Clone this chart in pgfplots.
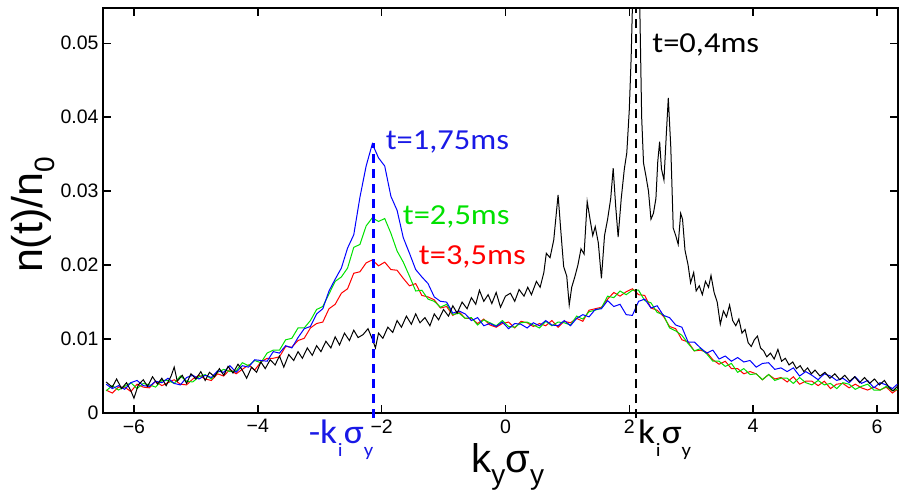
\documentclass[border=0pt]{standalone}
\usepackage{pgfplots}
\pgfplotsset{compat=1.18}
\usepackage{fontspec}
\usepackage{graphicx}
\setmainfont{Carlito}
\newfontfamily\arial{Liberation Sans}
\definecolor{cblue}{RGB}{0,0,255}
\definecolor{cgreen}{RGB}{0,225,0}
\definecolor{cred}{RGB}{255,0,0}
\definecolor{tblue}{RGB}{25,25,230}
\newcommand{\annfont}{\fontsize{29}{29}\selectfont}
\newcommand{\ann}[1]{\scalebox{1.12}[1]{\annfont #1}}
\newcommand{\kfont}{\fontsize{34}{34}\selectfont}
\newcommand{\sub}[1]{\raisebox{-0.4em}{\fontsize{19}{19}\selectfont #1}}
\newcommand{\klab}[1]{\scalebox{1.1}[1]{\kfont #1k\kern0.02em\sub{i}\kern0.03em σ\sub{y}}}
\begin{document}
\begin{tikzpicture}
\begin{axis}[
  name=ax,
  scale only axis,
  width=795pt, height=405pt,
  xmin=-6.5, xmax=6.34, ymin=0, ymax=0.05477,
  clip=false,
  axis line style={line width=1.8pt},
  major tick style={line width=1.5pt, black},
  major tick length=8pt,
  tick align=inside,
  xtick={-6,-4,-2,0,2,4,6},
  xticklabels={−6,−4,−2,0,2,4,6},
  ytick={0,0.01,0.02,0.03,0.04,0.05},
  yticklabels={0,0.01,0.02,0.03,0.04,0.05},
  scaled y ticks=false,
  tick label style={font=\arial\fontsize{19.5}{19.5}\selectfont},
  xticklabel style={yshift=-3pt},
  yticklabel style={xshift=-1pt},
  xlabel={\arial\fontsize{40}{40}\selectfont k\raisebox{-0.3em}{\fontsize{28}{28}\selectfont y}σ\raisebox{-0.3em}{\fontsize{28}{28}\selectfont y}},
  xlabel style={at={(axis description cs:0.509,-0.146)}, anchor=base},
  ylabel={\arial\fontsize{43}{43}\selectfont n(t)/n\raisebox{-0.3em}{\fontsize{28}{28}\selectfont 0}},
  ylabel style={at={(axis description cs:-0.088,0.489)}, anchor=center},
]
% t = 3.5 ms (red)
\addplot[cred, line width=1pt] table {
x y
-6.45 .0031
-6.35 .0027
-6.25 .0035
-6.15 .0035
-6.05 .0029
-5.95 .0039
-5.85 .0035
-5.75 .0034
-5.65 .0043
-5.55 .0037
-5.45 .0041
-5.35 .0045
-5.25 .0039
-5.15 .0038
-5.05 .0046
-4.95 .0051
-4.85 .0046
-4.75 .0044
-4.65 .0053
-4.55 .0050
-4.45 .0059
-4.35 .0053
-4.25 .0059
-4.15 .0065
-4.05 .0058
-3.95 .0069
-3.85 .0074
-3.75 .0074
-3.65 .0076
-3.55 .0090
-3.45 .0089
-3.35 .0098
-3.25 .0101
-3.15 .0115
-3.05 .0121
-2.95 .0123
-2.85 .0141
-2.75 .0147
-2.65 .0162
-2.55 .0168
-2.45 .0189
-2.35 .0191
-2.25 .0203
-2.15 .0207
-2.05 .0199
-1.95 .0204
-1.85 .0194
-1.75 .0193
-1.65 .0182
-1.55 .0172
-1.45 .0175
-1.35 .0159
-1.25 .0157
-1.15 .0153
-1.05 .0142
-0.95 .0144
-0.85 .0132
-0.75 .0137
-0.65 .0128
-0.55 .0128
-0.45 .0121
-0.35 .0127
-0.25 .0119
-0.15 .0116
-0.05 .0121
0.05 .0123
0.15 .0115
0.25 .0124
0.35 .0122
0.45 .0117
0.55 .0121
0.65 .0118
0.75 .0125
0.85 .0116
0.95 .0124
1.05 .0122
1.15 .0128
1.25 .0124
1.35 .0139
1.45 .0141
1.55 .0143
1.65 .0154
1.75 .0163
1.85 .0158
1.95 .0164
2.05 .0168
2.15 .0160
2.25 .0159
2.35 .0142
2.45 .0139
2.55 .0131
2.65 .0117
2.75 .0114
2.85 .0099
2.95 .0096
3.05 .0084
3.15 .0085
3.25 .0082
3.35 .0072
3.45 .0066
3.55 .0070
3.65 .0060
3.75 .0060
3.85 .0053
3.95 .0056
4.05 .0053
4.15 .0045
4.25 .0052
4.35 .0046
4.45 .0048
4.55 .0042
4.65 .0049
4.75 .0039
4.85 .0043
4.95 .0043
5.05 .0037
5.15 .0043
5.25 .0033
5.35 .0039
5.45 .0040
5.55 .0034
5.65 .0039
5.75 .0034
5.85 .0031
5.95 .0035
6.05 .0031
6.15 .0035
6.25 .0027
6.33 .0032
};
% t = 2.5 ms (green)
\addplot[cgreen, line width=1pt] table {
x y
-6.45 .0030
-6.35 .0037
-6.25 .0031
-6.15 .0036
-6.05 .0041
-5.95 .0033
-5.85 .0040
-5.75 .0038
-5.65 .0035
-5.55 .0044
-5.45 .0044
-5.35 .0040
-5.25 .0050
-5.15 .0043
-5.05 .0042
-4.95 .0049
-4.85 .0052
-4.75 .0046
-4.65 .0055
-4.55 .0059
-4.45 .0056
-4.35 .0057
-4.25 .0068
-4.15 .0064
-4.05 .0071
-3.95 .0068
-3.85 .0081
-3.75 .0085
-3.65 .0085
-3.55 .0099
-3.45 .0101
-3.35 .0115
-3.25 .0115
-3.15 .0125
-3.05 .0140
-2.95 .0144
-2.85 .0161
-2.75 .0178
-2.65 .0184
-2.55 .0196
-2.45 .0224
-2.35 .0228
-2.25 .0253
-2.15 .0264
-2.05 .0259
-1.95 .0263
-1.85 .0243
-1.75 .0219
-1.65 .0204
-1.55 .0185
-1.45 .0165
-1.35 .0166
-1.25 .0154
-1.15 .0151
-1.05 .0143
-0.95 .0147
-0.85 .0133
-0.75 .0135
-0.65 .0128
-0.55 .0129
-0.45 .0119
-0.35 .0126
-0.25 .0122
-0.15 .0118
-0.05 .0125
0.05 .0117
0.15 .0116
0.25 .0122
0.35 .0123
0.45 .0119
0.55 .0115
0.65 .0124
0.75 .0118
0.85 .0123
0.95 .0122
1.05 .0119
1.15 .0131
1.25 .0127
1.35 .0137
1.45 .0139
1.55 .0142
1.65 .0158
1.75 .0156
1.85 .0165
1.95 .0160
2.05 .0166
2.15 .0166
2.25 .0152
2.35 .0149
2.45 .0136
2.55 .0133
2.65 .0115
2.75 .0111
2.85 .0105
2.95 .0094
3.05 .0084
3.15 .0087
3.25 .0080
3.35 .0070
3.45 .0070
3.55 .0063
3.65 .0067
3.75 .0055
3.85 .0060
3.95 .0052
4.05 .0053
4.15 .0045
4.25 .0052
4.35 .0044
4.45 .0047
4.55 .0047
4.65 .0040
4.75 .0048
4.85 .0041
4.95 .0038
5.05 .0044
5.15 .0038
5.25 .0040
5.35 .0033
5.45 .0041
5.55 .0039
5.65 .0032
5.75 .0036
5.85 .0039
5.95 .0031
6.05 .0031
6.15 .0036
6.25 .0030
6.33 .0032
};
% t = 1.75 ms (blue)
\addplot[cblue, line width=1pt] table {
x y
-6.45 .0039
-6.35 .0033
-6.25 .0037
-6.15 .0032
-6.05 .0041
-5.95 .0044
-5.85 .0037
-5.75 .0036
-5.65 .0043
-5.55 .0041
-5.45 .0047
-5.35 .0040
-5.25 .0038
-5.15 .0048
-5.05 .0051
-4.95 .0046
-4.85 .0051
-4.75 .0048
-4.65 .0057
-4.55 .0055
-4.45 .0064
-4.35 .0055
-4.25 .0064
-4.15 .0062
-4.05 .0072
-3.95 .0071
-3.85 .0070
-3.75 .0083
-3.65 .0081
-3.55 .0091
-3.45 .0088
-3.35 .0102
-3.25 .0114
-3.15 .0117
-3.05 .0134
-2.95 .0141
-2.85 .0165
-2.75 .0181
-2.65 .0196
-2.55 .0223
-2.45 .0241
-2.35 .0292
-2.25 .0334
-2.15 .0364
-2.05 .0345
-1.95 .0334
-1.85 .0293
-1.75 .0274
-1.65 .0237
-1.55 .0216
-1.45 .0194
-1.35 .0184
-1.25 .0175
-1.15 .0157
-1.05 .0151
-0.95 .0150
-0.85 .0135
-0.75 .0138
-0.65 .0134
-0.55 .0125
-0.45 .0129
-0.35 .0118
-0.25 .0121
-0.15 .0117
-0.05 .0123
0.05 .0114
0.15 .0121
0.25 .0120
0.35 .0115
0.45 .0122
0.55 .0118
0.65 .0125
0.75 .0119
0.85 .0118
0.95 .0125
1.05 .0118
1.15 .0128
1.25 .0133
1.35 .0130
1.45 .0140
1.55 .0141
1.65 .0152
1.75 .0144
1.85 .0147
1.95 .0133
2.05 .0132
2.15 .0151
2.25 .0154
2.35 .0142
2.45 .0145
2.55 .0132
2.65 .0129
2.75 .0119
2.85 .0116
2.95 .0096
3.05 .0096
3.15 .0088
3.25 .0081
3.35 .0085
3.45 .0073
3.55 .0077
3.65 .0070
3.75 .0075
3.85 .0069
3.95 .0071
4.05 .0062
4.15 .0067
4.25 .0068
4.35 .0059
4.45 .0061
4.55 .0056
4.65 .0061
4.75 .0050
4.85 .0056
4.95 .0051
5.05 .0045
5.15 .0053
5.25 .0050
5.35 .0044
5.45 .0047
5.55 .0041
5.65 .0049
5.75 .0040
5.85 .0044
5.95 .0034
6.05 .0041
6.15 .0038
6.25 .0033
6.33 .0039
};
% t = 0.4 ms (black)
\addplot[black, line width=1pt] table {
x y
-6.45 .0042
-6.35 .0035
-6.28 .0046
-6.20 .0033
-6.12 .0041
-6.05 .0030
-6.00 .0020
-5.93 .0038
-5.85 .0045
-5.78 .0036
-5.70 .0049
-5.62 .0039
-5.55 .0047
-5.48 .0037
-5.40 .0050
-5.35 .0062
-5.30 .0043
-5.22 .0051
-5.15 .0040
-5.08 .0053
-5.00 .0046
-4.92 .0056
-4.85 .0044
-4.78 .0055
-4.70 .0049
-4.62 .0060
-4.55 .0051
-4.48 .0063
-4.40 .0054
-4.32 .0066
-4.25 .0058
-4.18 .0047
-4.10 .0062
-4.02 .0055
-3.95 .0069
-3.88 .0060
-3.80 .0072
-3.72 .0065
-3.65 .0077
-3.58 .0062
-3.50 .0079
-3.42 .0071
-3.35 .0083
-3.28 .0074
-3.20 .0088
-3.12 .0078
-3.05 .0091
-2.98 .0083
-2.90 .0097
-2.82 .0088
-2.75 .0103
-2.68 .0092
-2.60 .0108
-2.52 .0098
-2.45 .0112
-2.38 .0102
-2.30 .0106
-2.22 .0114
-2.15 .0100
-2.10 .0088
-2.05 .0108
-1.98 .0101
-1.90 .0116
-1.82 .0109
-1.75 .0125
-1.68 .0116
-1.60 .0131
-1.52 .0120
-1.45 .0134
-1.38 .0122
-1.30 .0129
-1.22 .0118
-1.15 .0134
-1.08 .0126
-1.00 .0140
-0.92 .0131
-0.85 .0145
-0.78 .0135
-0.70 .0150
-0.62 .0141
-0.55 .0156
-0.48 .0147
-0.42 .0166
-0.35 .0151
-0.28 .0160
-0.22 .0148
-0.15 .0163
-0.08 .0143
0.00 .0158
0.08 .0162
0.15 .0151
0.22 .0167
0.30 .0158
0.36 .0170
0.42 .0160
0.50 .0178
0.56 .0170
0.62 .0190
0.66 .0216
0.72 .0210
0.78 .0234
0.85 .0295
0.90 .0240
0.94 .0198
0.99 .0185
1.03 .0146
1.07 .0170
1.12 .0184
1.17 .0200
1.22 .0222
1.27 .0215
1.32 .0286
1.37 .0260
1.41 .0240
1.45 .0252
1.50 .0230
1.55 .0182
1.60 .0240
1.65 .0262
1.70 .0290
1.74 .0331
1.78 .0280
1.82 .0238
1.87 .0290
1.92 .0330
1.96 .0352
2.00 .0410
2.03 .0480
2.05 .05477
2.17 .05477
2.20 .0400
2.23 .0338
2.27 .0320
2.31 .0300
2.35 .0262
2.39 .0270
2.43 .0290
2.46 .0340
2.49 .0367
2.52 .0330
2.56 .0315
2.60 .0380
2.63 .0426
2.67 .0360
2.71 .0250
2.75 .0240
2.79 .0228
2.83 .0270
2.86 .0262
2.90 .0220
2.95 .0200
2.99 .0176
3.04 .0190
3.08 .0165
3.13 .0172
3.18 .0160
3.23 .0178
3.28 .0170
3.32 .0186
3.37 .0163
3.42 .0150
3.47 .0120
3.52 .0138
3.57 .0130
3.62 .0146
3.67 .0125
3.72 .0118
3.77 .0127
3.82 .0108
3.87 .0113
3.92 .0095
3.97 .0090
4.02 .0099
4.07 .0104
4.12 .0088
4.17 .0084
4.22 .0076
4.28 .0081
4.34 .0073
4.40 .0086
4.46 .0070
4.52 .0074
4.58 .0065
4.64 .0069
4.70 .0060
4.76 .0064
4.82 .0056
4.88 .0061
4.94 .0053
5.00 .0058
5.08 .0050
5.16 .0055
5.24 .0047
5.32 .0053
5.40 .0045
5.48 .0051
5.56 .0043
5.64 .0049
5.72 .0041
5.80 .0048
5.88 .0040
5.96 .0046
6.04 .0038
6.12 .0044
6.20 .0034
6.26 .0030
6.33 .0036
};
% reference lines
\addplot[cblue, line width=2.2pt, dash pattern=on 9pt off 6pt] coordinates {(-2.13,-0.0007) (-2.13,0.0365)};
\addplot[black, line width=2.2pt, dash pattern=on 9pt off 6pt] coordinates {(2.11,-0.0007) (2.11,0.05477)};
% annotations
\node[anchor=west, text=tblue, inner sep=0pt] at (axis cs:-1.935,0.0367) {\ann{t=1,75ms}};
\node[anchor=west, text=cgreen, inner sep=0pt] at (axis cs:-1.66,0.0265) {\ann{t=2,5ms}};
\node[anchor=west, text=cred, inner sep=0pt] at (axis cs:-1.40,0.0211) {\ann{t=3,5ms}};
\node[anchor=west, text=black, inner sep=0pt] at (axis cs:2.37,0.0498) {\ann{t=0,4ms}};
\node[anchor=base west, text=tblue, inner sep=0pt] at (axis cs:-3.18,-0.00406) {\klab{-}};
\node[anchor=base west, text=black, inner sep=0pt] at (axis cs:2.14,-0.00406) {\klab{}};
\end{axis}
\pgfresetboundingbox
\path[use as bounding box] (ax.south west) ++(-103pt,-79pt) rectangle ([xshift=1pt,yshift=8pt]ax.north east);
\end{tikzpicture}
\end{document}
